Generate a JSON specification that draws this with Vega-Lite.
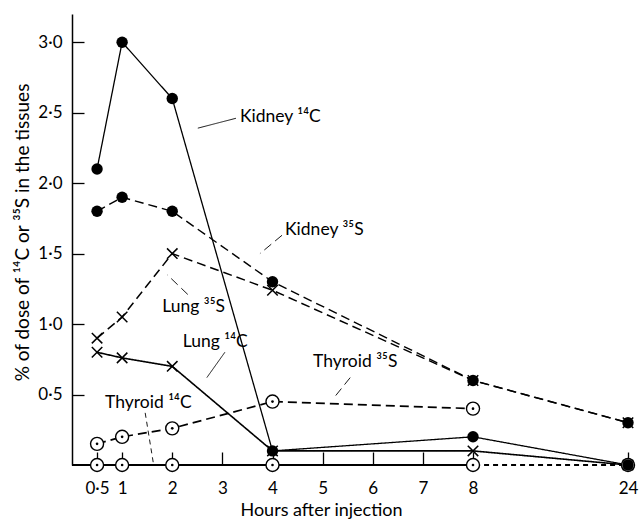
{
  "$schema": "https://vega.github.io/schema/vega-lite/v6.json",
  "width": 560,
  "height": 451,
  "autosize": {"type": "none"},
  "padding": {"left": 72, "top": 14, "right": 12, "bottom": 56},
  "background": "white",
  "config": {
    "view": {"stroke": null},
    "font": "Lato",
    "axis": {"domainColor": "black", "tickColor": "black", "labelColor": "black", "titleColor": "black", "grid": false, "labelFont": "Lato", "titleFont": "Lato", "titleFontWeight": "normal", "domainWidth": 1.5, "tickWidth": 1.3}
  },
  "datasets": {
    "series": [
      {"series": "Kidney 14C", "organ": "Kidney", "hours": 0.5, "value": 2.1},
      {"series": "Kidney 14C", "organ": "Kidney", "hours": 1, "value": 3.0},
      {"series": "Kidney 14C", "organ": "Kidney", "hours": 2, "value": 2.6},
      {"series": "Kidney 14C", "organ": "Kidney", "hours": 4, "value": 0.1},
      {"series": "Kidney 14C", "organ": "Kidney", "hours": 8, "value": 0.2},
      {"series": "Kidney 14C", "organ": "Kidney", "hours": 24, "value": 0.0},
      {"series": "Kidney 35S", "organ": "Kidney", "hours": 0.5, "value": 1.8},
      {"series": "Kidney 35S", "organ": "Kidney", "hours": 1, "value": 1.9},
      {"series": "Kidney 35S", "organ": "Kidney", "hours": 2, "value": 1.8},
      {"series": "Kidney 35S", "organ": "Kidney", "hours": 4, "value": 1.3},
      {"series": "Kidney 35S", "organ": "Kidney", "hours": 8, "value": 0.6},
      {"series": "Kidney 35S", "organ": "Kidney", "hours": 24, "value": 0.3},
      {"series": "Lung 35S", "organ": "Lung", "hours": 0.5, "value": 0.9},
      {"series": "Lung 35S", "organ": "Lung", "hours": 1, "value": 1.05},
      {"series": "Lung 35S", "organ": "Lung", "hours": 2, "value": 1.5},
      {"series": "Lung 35S", "organ": "Lung", "hours": 4, "value": 1.24},
      {"series": "Lung 35S", "organ": "Lung", "hours": 8, "value": 0.6},
      {"series": "Lung 35S", "organ": "Lung", "hours": 24, "value": 0.3},
      {"series": "Lung 14C", "organ": "Lung", "hours": 0.5, "value": 0.8},
      {"series": "Lung 14C", "organ": "Lung", "hours": 1, "value": 0.76},
      {"series": "Lung 14C", "organ": "Lung", "hours": 2, "value": 0.7},
      {"series": "Lung 14C", "organ": "Lung", "hours": 4, "value": 0.1},
      {"series": "Lung 14C", "organ": "Lung", "hours": 8, "value": 0.1},
      {"series": "Lung 14C", "organ": "Lung", "hours": 24, "value": 0.0},
      {"series": "Thyroid 35S", "organ": "Thyroid", "hours": 0.5, "value": 0.15},
      {"series": "Thyroid 35S", "organ": "Thyroid", "hours": 1, "value": 0.2},
      {"series": "Thyroid 35S", "organ": "Thyroid", "hours": 2, "value": 0.26},
      {"series": "Thyroid 35S", "organ": "Thyroid", "hours": 4, "value": 0.45},
      {"series": "Thyroid 35S", "organ": "Thyroid", "hours": 8, "value": 0.4},
      {"series": "Thyroid 14C", "organ": "Thyroid", "hours": 0.5, "value": 0.0},
      {"series": "Thyroid 14C", "organ": "Thyroid", "hours": 1, "value": 0.0},
      {"series": "Thyroid 14C", "organ": "Thyroid", "hours": 2, "value": 0.0},
      {"series": "Thyroid 14C", "organ": "Thyroid", "hours": 4, "value": 0.0},
      {"series": "Thyroid 14C", "organ": "Thyroid", "hours": 8, "value": 0.0},
      {"series": "Thyroid 14C", "organ": "Thyroid", "hours": 24, "value": 0.0}
    ],
    "labels": [
      {"series": "Kidney 14C", "text": "Kidney ¹⁴C", "x": 3.35, "y": 2.47, "lx": 3.27, "ly": 2.46, "tx": 2.51, "ty": 2.39},
      {"series": "Kidney 35S", "text": "Kidney ³⁵S", "x": 4.25, "y": 1.67, "lx": 4.19, "ly": 1.63, "tx": 3.75, "ty": 1.5},
      {"series": "Lung 35S", "text": "Lung ³⁵S", "x": 1.8, "y": 1.12, "lx": 2.31, "ly": 1.21, "tx": 1.9, "ty": 1.35},
      {"series": "Lung 14C", "text": "Lung ¹⁴C", "x": 2.21, "y": 0.87, "lx": 3.05, "ly": 0.8, "tx": 2.69, "ty": 0.62},
      {"series": "Thyroid 35S", "text": "Thyroid ³⁵S", "x": 4.81, "y": 0.73, "lx": 5.55, "ly": 0.62, "tx": 5.21, "ty": 0.47},
      {"series": "Thyroid 14C", "text": "Thyroid ¹⁴C", "x": 0.66, "y": 0.44, "lx": 1.46, "ly": 0.37, "tx": 1.62, "ty": 0.02}
    ]
  },
  "layer": [
    {
      "data": {"values": [{}]},
      "mark": {"type": "rule", "color": "black", "strokeWidth": 1.8},
      "encoding": {
        "x": {"datum": 0, "type": "quantitative"},
        "x2": {"datum": 8},
        "y": {"datum": 0, "type": "quantitative"}
      }
    },
    {
      "data": {"name": "series"},
      "mark": {"type": "line", "color": "black"},
      "encoding": {
        "x": {
          "field": "hours", "type": "quantitative",
          "scale": {"type": "linear", "domain": [0, 8, 24, 24.3], "range": [0, 401, 556, 560], "nice": false, "zero": false},
          "axis": {
            "title": "Hours after injection",
            "domain": false,
            "values": [0.5, 1, 2, 3, 4, 5, 6, 7, 8, 24],
            "labelExpr": "replace(format(datum.value, '~g'), '.', '·')",
            "tickSize": -13,
            "labelPadding": 28,
            "labelFontSize": 17,
            "titleFontSize": 18,
            "titleBaseline": "middle",
            "titleX": 249,
            "titleY": 45
          }
        },
        "y": {
          "field": "value", "type": "quantitative",
          "scale": {"domain": [0, 3.2], "nice": false},
          "axis": {
            "title": "% of dose of ¹⁴C or ³⁵S in the tissues",
            "values": [0.5, 1, 1.5, 2, 2.5, 3],
            "labelExpr": "replace(format(datum.value, '.1f'), '.', '·')",
            "tickSize": -12,
            "labelPadding": 22,
            "labelFontSize": 17,
            "titleFontSize": 19,
            "titleBaseline": "middle",
            "titleX": -50,
            "titleY": 218
          }
        },
        "detail": {"field": "series"},
        "strokeDash": {
          "field": "series", "type": "nominal", "legend": null,
          "scale": {"domain": ["Kidney 14C", "Kidney 35S", "Lung 35S", "Lung 14C", "Thyroid 35S", "Thyroid 14C"], "range": [[1, 0], [9, 5], [9, 5], [1, 0], [9, 5], [5, 4]]}
        },
        "strokeWidth": {
          "field": "series", "type": "nominal", "legend": null,
          "scale": {"domain": ["Kidney 14C", "Kidney 35S", "Lung 35S", "Lung 14C", "Thyroid 35S", "Thyroid 14C"], "range": [1.3, 1.8, 1.8, 2, 1.6, 1.8]}
        }
      }
    },
    {
      "data": {"name": "series"},
      "transform": [{"filter": "datum.organ == 'Thyroid'"}],
      "mark": {"type": "point", "shape": "circle", "filled": false, "fill": "white", "fillOpacity": 1, "stroke": "black", "strokeWidth": 1.4, "size": 170, "opacity": 1},
      "encoding": {
        "x": {"field": "hours", "type": "quantitative"},
        "y": {"field": "value", "type": "quantitative"}
      }
    },
    {
      "data": {"name": "series"},
      "transform": [{"filter": "datum.organ == 'Thyroid'"}],
      "mark": {"type": "point", "shape": "circle", "filled": true, "color": "black", "size": 7, "opacity": 1},
      "encoding": {
        "x": {"field": "hours", "type": "quantitative"},
        "y": {"field": "value", "type": "quantitative"}
      }
    },
    {
      "data": {"name": "series"},
      "transform": [{"filter": "datum.organ == 'Kidney'"}],
      "mark": {"type": "point", "shape": "circle", "filled": true, "color": "black", "size": 130, "opacity": 1},
      "encoding": {
        "x": {"field": "hours", "type": "quantitative"},
        "y": {"field": "value", "type": "quantitative"}
      }
    },
    {
      "data": {"name": "series"},
      "transform": [{"filter": "datum.organ == 'Lung'"}],
      "mark": {"type": "point", "shape": "M-1,-1L1,1M1,-1L-1,1", "filled": false, "color": "black", "strokeWidth": 1.5, "size": 110, "opacity": 1},
      "encoding": {
        "x": {"field": "hours", "type": "quantitative"},
        "y": {"field": "value", "type": "quantitative"}
      }
    },
    {
      "data": {"name": "labels"},
      "mark": {"type": "rule", "color": "black", "strokeWidth": 0.9},
      "encoding": {
        "x": {"field": "lx", "type": "quantitative"},
        "y": {"field": "ly", "type": "quantitative"},
        "x2": {"field": "tx"},
        "y2": {"field": "ty"},
        "strokeDash": {
          "field": "series", "type": "nominal", "legend": null,
          "scale": {"domain": ["Kidney 14C", "Kidney 35S", "Lung 35S", "Lung 14C", "Thyroid 35S", "Thyroid 14C"], "range": [[3, 2], [3, 2], [1, 0], [1, 0], [1, 0], [3, 2]]}
        }
      }
    },
    {
      "data": {"name": "labels"},
      "mark": {"type": "text", "align": "left", "baseline": "middle", "fontSize": 17.5, "color": "black", "font": "Lato"},
      "encoding": {
        "x": {"field": "x", "type": "quantitative"},
        "y": {"field": "y", "type": "quantitative"},
        "text": {"field": "text"}
      }
    }
  ]
}
